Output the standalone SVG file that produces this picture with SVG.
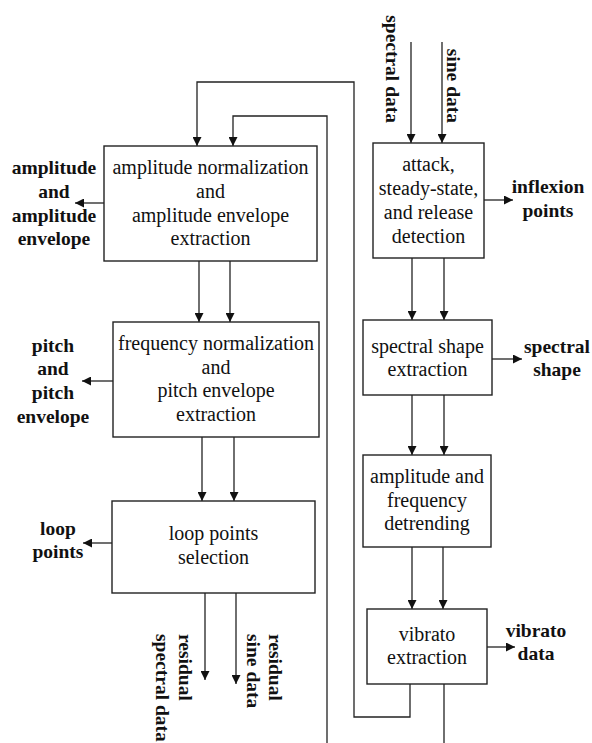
<svg xmlns="http://www.w3.org/2000/svg" width="592" height="743" viewBox="0 0 592 743">
<defs>
<marker id="ah" viewBox="0 0 10 10" refX="10" refY="5" markerWidth="9" markerHeight="9" markerUnits="userSpaceOnUse" orient="auto">
<path d="M0,0 L10,5 L0,10 z" fill="#111"/>
</marker>
<style>
.box{fill:#fff;stroke:#222;stroke-width:1.4}
.c{fill:none;stroke:#222;stroke-width:1.3}
.a{fill:none;stroke:#222;stroke-width:1.3;marker-end:url(#ah)}
.t{font-family:"Liberation Serif","Times New Roman",serif;font-size:20px;fill:#111;text-anchor:middle}
.l{font-family:"Liberation Serif","Times New Roman",serif;font-size:19.5px;font-weight:bold;fill:#111;text-anchor:middle}
.r{font-family:"Liberation Serif","Times New Roman",serif;font-size:19.5px;font-weight:bold;fill:#111}
</style>
</defs>
<rect width="592" height="743" fill="#fff"/>
<g id="connectors">
<polyline class="a" points="410,684 410,717 354,717 354,82 197,82 197,146"/>
<polyline class="a" points="327,743 327,116 233,116 233,146"/>
<line class="c" x1="444" y1="684" x2="444" y2="743"/>
<line class="a" x1="199" y1="261" x2="199" y2="322"/>
<line class="a" x1="230" y1="261" x2="230" y2="322"/>
<line class="a" x1="202" y1="437" x2="202" y2="501"/>
<line class="a" x1="234" y1="437" x2="234" y2="501"/>
<line class="a" x1="205" y1="593" x2="205" y2="680"/>
<line class="a" x1="236" y1="593" x2="236" y2="684"/>
<line class="a" x1="104" y1="203" x2="75" y2="203"/>
<line class="a" x1="113" y1="381" x2="82" y2="381"/>
<line class="a" x1="112" y1="543" x2="83" y2="543"/>
<line class="a" x1="411" y1="42" x2="411" y2="143"/>
<line class="a" x1="442" y1="42" x2="442" y2="143"/>
<line class="a" x1="412" y1="258" x2="412" y2="320"/>
<line class="a" x1="444" y1="258" x2="444" y2="320"/>
<line class="a" x1="412" y1="395" x2="412" y2="455"/>
<line class="a" x1="444" y1="395" x2="444" y2="455"/>
<line class="a" x1="412" y1="547" x2="412" y2="609"/>
<line class="a" x1="443" y1="547" x2="443" y2="609"/>
<line class="a" x1="484" y1="200" x2="513" y2="200"/>
<line class="a" x1="492" y1="359" x2="522" y2="359"/>
<line class="a" x1="487" y1="647" x2="515" y2="647"/>
</g>
<g id="amp-norm">
<rect class="box" x="104" y="146" width="213" height="115"/>
<text class="t" x="210.5" y="174">amplitude normalization</text>
<text class="t" x="210.5" y="198">and</text>
<text class="t" x="210.5" y="222">amplitude envelope</text>
<text class="t" x="210.5" y="245">extraction</text>
</g>
<g id="freq-norm">
<rect class="box" x="113" y="322" width="206" height="115"/>
<text class="t" x="216" y="350">frequency normalization</text>
<text class="t" x="216" y="374">and</text>
<text class="t" x="216" y="397">pitch envelope</text>
<text class="t" x="216" y="421">extraction</text>
</g>
<g id="loop-sel">
<rect class="box" x="112" y="501" width="203" height="92"/>
<text class="t" x="213.5" y="540">loop points</text>
<text class="t" x="213.5" y="564">selection</text>
</g>
<g id="attack">
<rect class="box" x="373" y="143" width="111" height="115"/>
<text class="t" x="428.5" y="171">attack,</text>
<text class="t" x="428.5" y="195">steady-state,</text>
<text class="t" x="428.5" y="219">and release</text>
<text class="t" x="428.5" y="243">detection</text>
</g>
<g id="spec-shape">
<rect class="box" x="363" y="320" width="129" height="75"/>
<text class="t" x="427.5" y="353">spectral shape</text>
<text class="t" x="427.5" y="376">extraction</text>
</g>
<g id="detrend">
<rect class="box" x="363" y="455" width="128" height="92"/>
<text class="t" x="427" y="483">amplitude and</text>
<text class="t" x="427" y="507">frequency</text>
<text class="t" x="427" y="530">detrending</text>
</g>
<g id="vibrato">
<rect class="box" x="367" y="609" width="120" height="75"/>
<text class="t" x="427" y="641">vibrato</text>
<text class="t" x="427" y="664">extraction</text>
</g>
<g id="labels">
<text class="l" x="54" y="174">amplitude</text>
<text class="l" x="54" y="198">and</text>
<text class="l" x="54" y="222">amplitude</text>
<text class="l" x="54" y="245">envelope</text>
<text class="l" x="53" y="352">pitch</text>
<text class="l" x="53" y="375">and</text>
<text class="l" x="53" y="399">pitch</text>
<text class="l" x="53" y="423">envelope</text>
<text class="l" x="58" y="535">loop</text>
<text class="l" x="58" y="558">points</text>
<text class="l" x="548" y="193">inflexion</text>
<text class="l" x="548" y="217">points</text>
<text class="l" x="557" y="353">spectral</text>
<text class="l" x="557" y="376">shape</text>
<text class="l" x="536" y="637">vibrato</text>
<text class="l" x="536" y="660">data</text>
<text class="r" transform="translate(386,123) rotate(90)" text-anchor="end">spectral data</text>
<text class="r" transform="translate(447,123) rotate(90)" text-anchor="end">sine data</text>
<text class="r" transform="translate(179,634) rotate(90)">residual</text>
<text class="r" transform="translate(156,634) rotate(90)">spectral data</text>
<text class="r" transform="translate(269,634) rotate(90)">residual</text>
<text class="r" transform="translate(247,634) rotate(90)">sine data</text>
</g>
</svg>
